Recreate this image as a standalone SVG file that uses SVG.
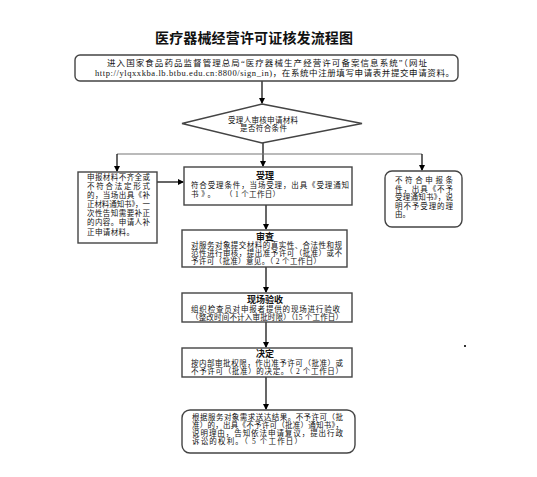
<svg xmlns="http://www.w3.org/2000/svg" width="537" height="477" viewBox="0 0 537 477">
<defs>
<marker id="ah" markerWidth="6" markerHeight="6" refX="5" refY="3" orient="auto" markerUnits="userSpaceOnUse">
<path d="M0,0 L6,3 L0,6 z" fill="#000"/>
</marker>
</defs>
<style>
text{font-family:"Liberation Serif","Noto Sans CJK SC",serif;fill:#111;}
.t{font-size:7.5px;}
.s{font-size:7.5px;}
.h{font-size:9px;font-weight:bold;text-anchor:middle;}
.box{fill:#fff;stroke:#444;stroke-width:1.4;}
.c{stroke:#000;stroke-width:1.2;fill:none;}
</style>
<rect width="537" height="477" fill="#fff"/>
<text x="254" y="43" font-size="14" font-weight="bold" text-anchor="middle" textLength="198">医疗器械经营许可证核发流程图</text>

<g id="connectors">
<line class="c" x1="262" y1="81" x2="262" y2="103" marker-end="url(#ah)"/>
<line class="c" x1="263" y1="143" x2="263" y2="166" marker-end="url(#ah)"/>
<line x1="117" y1="154" x2="422" y2="154" stroke="#777" stroke-width="1.2"/>
<line class="c" x1="117" y1="154" x2="117" y2="171" marker-end="url(#ah)"/>
<line class="c" x1="422" y1="154" x2="422" y2="170" marker-end="url(#ah)"/>
<line class="c" x1="157" y1="182" x2="183" y2="182" marker-end="url(#ah)"/>
<line class="c" x1="266" y1="205" x2="266" y2="229" marker-end="url(#ah)"/>
<line class="c" x1="266" y1="267" x2="266" y2="292" marker-end="url(#ah)"/>
<line class="c" x1="266" y1="322" x2="266" y2="347" marker-end="url(#ah)"/>
<line class="c" x1="266" y1="377" x2="266" y2="409" marker-end="url(#ah)"/>
</g>

<g id="start">
<rect class="box" x="75" y="55" width="383" height="26" rx="5"/>
<text x="107" y="66" font-size="8.5" textLength="320">进入国家食品药品监督管理总局“医疗器械生产经营许可备案信息系统”（网址</text>
<text x="95" y="76" font-size="8.5" textLength="359">http://ylqxxkba.lb.btbu.edu.cn:8800/sign_in)，在系统中注册填写申请表并提交申请资料。</text>
</g>

<g id="check">
<polygon class="box" points="262,104 362,123.5 262,143 182,123.5"/>
<text class="t" x="228" y="123" textLength="70">受理人审核申请材料</text>
<text class="t" x="240" y="131" textLength="47">是否符合条件</text>
</g>

<g id="supplement">
<rect class="box" x="78" y="172" width="79" height="71"/>
<text class="s" x="87" y="180" textLength="63">申报材料不齐全或</text>
<text class="s" x="87" y="189" textLength="63">不符合法定形式</text>
<text class="s" x="87" y="198" textLength="63">的，当场出具《补</text>
<text class="s" x="87" y="207" textLength="63">正材料通知书》，一</text>
<text class="s" x="87" y="216" textLength="63">次性告知需要补正</text>
<text class="s" x="87" y="225" textLength="63">的内容。申请人补</text>
<text class="s" x="87" y="235" textLength="47">正申请材料。</text>
</g>

<g id="accept">
<rect class="box" x="184" y="167" width="168" height="38"/>
<text class="h" x="265" y="178.5">受理</text>
<text class="t" x="191" y="188" textLength="158">符合受理条件，当场受理，出具《受理通知</text>
<text class="t" x="191" y="196.5" textLength="24">书》。</text>
<text class="t" x="225" y="196.5" textLength="55">（ 1 个工作日）</text>
</g>

<g id="reject">
<rect class="box" x="385" y="171" width="77" height="56" rx="7"/>
<text class="s" x="395" y="183" textLength="58">不符合申报条</text>
<text class="s" x="395" y="191.5" textLength="58">件，出具《不予</text>
<text class="s" x="395" y="200" textLength="58">受理通知书》，说</text>
<text class="s" x="395" y="208.5" textLength="58">明不予受理的理</text>
<text class="s" x="395" y="217" textLength="15">由。</text>
</g>

<g id="review">
<rect class="box" x="182" y="230" width="165" height="37"/>
<text class="h" x="265" y="239.5">审查</text>
<text class="t" x="191" y="248" textLength="151">对服务对象提交材料的真实性、合法性和规</text>
<text class="t" x="191" y="256" textLength="151">范性进行审核，提出准予许可（批准）或不</text>
<text class="t" x="191" y="264" textLength="130">予许可（批准）意见。（ 2 个工作日）</text>
</g>

<g id="inspect">
<rect class="box" x="182" y="293" width="170" height="29"/>
<text class="h" x="265" y="302.5">现场验收</text>
<text class="t" x="191" y="311.5" textLength="149">组织检查员对申报者提供的现场进行验收</text>
<text class="t" x="191" y="319.5" textLength="152">（整改时间不计入审批时限）（15 个工作日）</text>
</g>

<g id="decide">
<rect class="box" x="182" y="348" width="170" height="29"/>
<text class="h" x="265" y="357">决定</text>
<text class="t" x="191" y="366" textLength="152">按内部审批权限，作出准予许可（批准）或</text>
<text class="t" x="191" y="374" textLength="152">不予许可（批准）的决定。（ 2 个工作日）</text>
</g>

<g id="deliver">
<rect class="box" x="182" y="410" width="173" height="43" rx="8"/>
<text class="t" x="192" y="420" textLength="151">根据服务对象需求送达结果。不予许可（批</text>
<text class="t" x="192" y="428" textLength="151">准）的，出具《不予许可（批准）通知书》，</text>
<text class="t" x="192" y="436" textLength="151">说明理由，告知依法申请复议，提出行政</text>
<text class="t" x="192" y="444" textLength="110">诉讼的权利。（ 5 个工作日）</text>
</g>

<rect x="464" y="345" width="2" height="2" fill="#333"/>
</svg>
